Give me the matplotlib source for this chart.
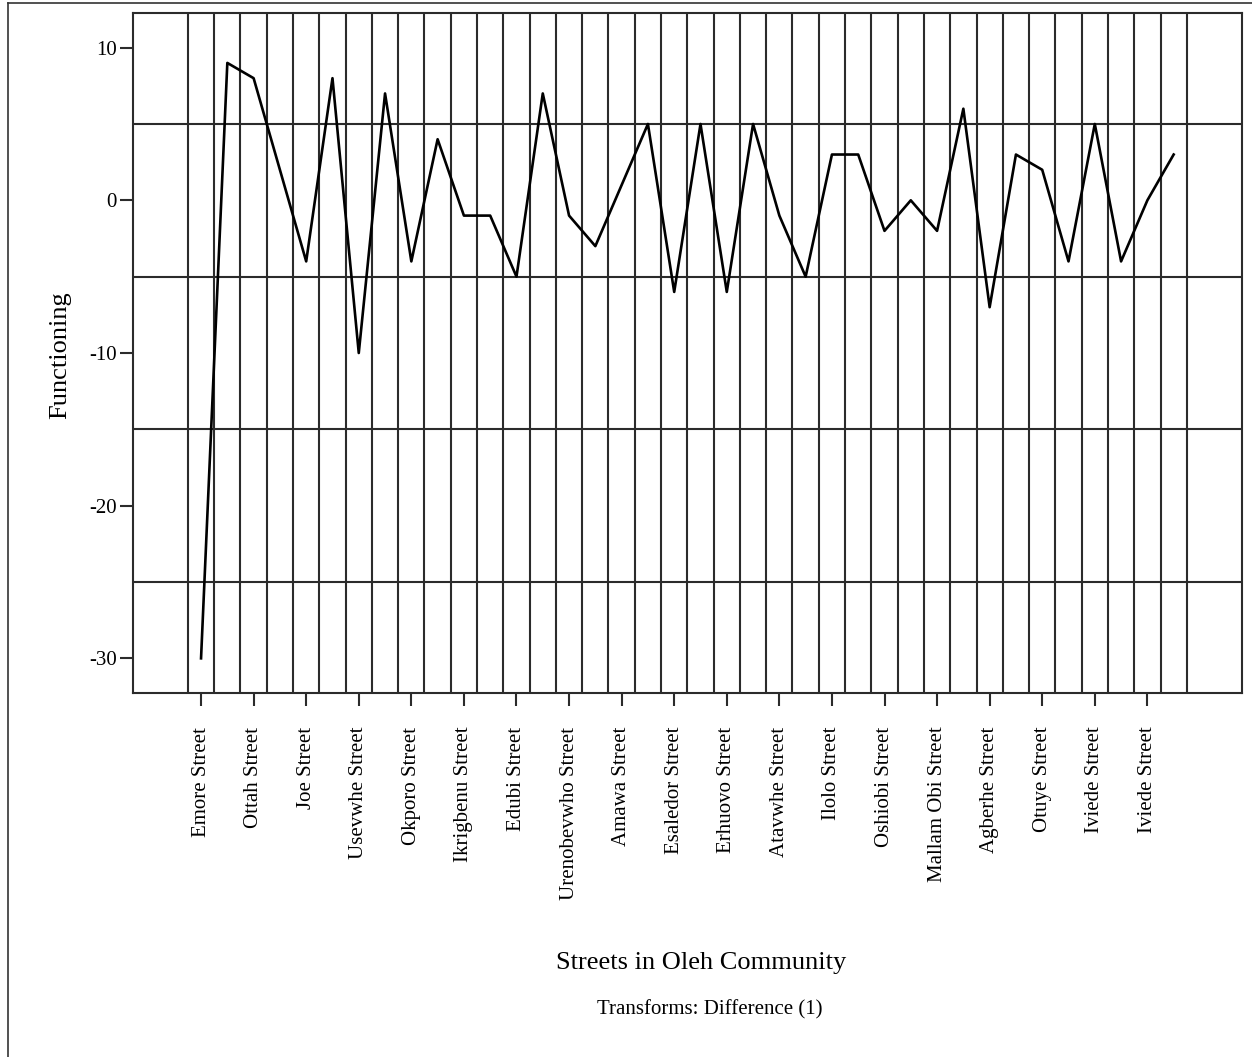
import numpy as np
import matplotlib
matplotlib.use('Agg')
import matplotlib.pyplot as plt
from matplotlib.lines import Line2D

plt.rcParams['font.family'] = ['Liberation Serif', 'DejaVu Serif']

# one label for every second observation
streets = ['Emore Street', 'Ottah Street', 'Joe Street', 'Usevwhe Street', 'Okporo Street',
           'Ikrigbenu Street', 'Edubi Street', 'Urenobevwho Street', 'Amawa Street',
           'Esaledor Street', 'Erhuovo Street', 'Atavwhe Street', 'Ilolo Street',
           'Oshiobi Street', 'Mallam Obi Street', 'Agberhe Street', 'Otuye Street',
           'Iviede Street', 'Iviede Street']
functioning = [-30, 9, 8, 2, -4, 8, -10, 7, -4, 4, -1, -1, -5, 7, -1, -3, 1, 5, -6, 5,
               -6, 5, -1, -5, 3, 3, -2, 0, -2, 6, -7, 3, 2, -4, 5, -4, 0, 3]
ref_lines = [5, -5, -15, -25]
yticks = [10, 0, -10, -20, -30]

n = len(functioning)
x = np.arange(n)

fig = plt.figure(figsize=(12.52, 10.57), dpi=100)
ax = fig.add_axes([132.7/1252, 1-692.7/1057, (1242-132.7)/1252, (692.7-13.3)/1057])

gc = '#2b2b2b'
for xv in np.arange(n+1) - 0.5:
    ax.axvline(xv, color=gc, lw=1.5, zorder=1)
for yv in ref_lines:
    ax.axhline(yv, color=gc, lw=1.5, zorder=1)

ax.plot(x, functioning, color='black', lw=1.9, zorder=3)

ax.set_xlim(-2.6, n - 1 + 2.6)
ax.set_ylim(-32.25, 12.25)
ax.set_xticks(x[::2])
ax.set_xticklabels(streets, rotation=90, fontsize=15, va='top')
ax.set_yticks(yticks)
ax.set_yticklabels([str(v) for v in yticks], fontsize=15)
ax.tick_params(axis='x', length=9.5, width=1.5, color=gc, pad=15)
ax.tick_params(axis='y', length=9.5, width=1.5, color=gc, pad=2)
for s in ax.spines.values():
    s.set_color(gc)
    s.set_linewidth(1.5)

fig.text(60/1252, 1-355/1057, 'Functioning', rotation=90, fontsize=19, ha='center', va='center')
fig.text(701/1252, 1-963/1057, 'Streets in Oleh Community', fontsize=19, ha='center', va='center')
fig.text(710/1252, 1-1010/1057, 'Transforms: Difference (1)', fontsize=15, ha='center', va='center')

# outer frame (left and top edge only visible)
fig.add_artist(Line2D([8/1252, 8/1252], [0, 1-3/1057], color='#333333', lw=1.2))
fig.add_artist(Line2D([8/1252, 1], [1-3/1057, 1-3/1057], color='#333333', lw=1.2))

fig.savefig('out.png', dpi=100, facecolor='white')
